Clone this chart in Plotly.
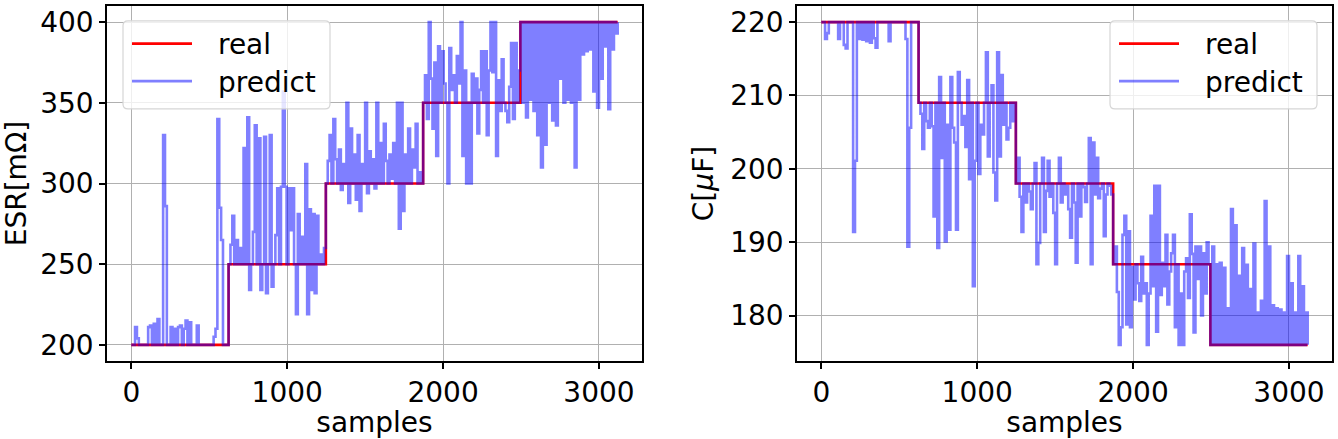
import numpy as np
import plotly.graph_objects as go
from plotly.subplots import make_subplots

# predict values every STEP samples
STEP = 12
n_samples = 3120
level_starts = [0, 624, 1248, 1872, 2496]
esr_levels = [200, 250, 300, 350, 400]
c_levels = [220, 209, 198, 187, 176]

esr_predict = [
    # 0 - 612  (real 200)
    200, 200, 211, 204, 200, 200, 200, 200, 200, 211, 212, 200, 213, 200, 216, 200, 200, 330, 286, 200,
    200, 211, 200, 210, 200, 211, 212, 200, 210, 215, 200, 214, 200, 200, 200, 212, 200, 200, 200, 200,
    200, 200, 200, 200, 205, 210, 340, 285, 265, 200, 200, 200,
    # 624 - 1236  (real 250)
    250, 262, 280, 250, 265, 250, 260, 250, 322, 250, 341, 234, 250, 270, 336, 250, 328, 234, 250, 329,
    232, 250, 330, 236, 250, 268, 297, 250, 298, 357, 298, 250, 297, 271, 297, 250, 219, 281, 250, 267,
    250, 312, 219, 284, 234, 281, 232, 280, 250, 256, 250, 260,
    # 1248 - 1860  (real 300)
    300, 314, 330, 300, 340, 315, 300, 321, 296, 312, 300, 350, 288, 334, 300, 318, 290, 330, 283, 312,
    300, 350, 294, 320, 300, 315, 297, 350, 300, 325, 300, 337, 314, 300, 318, 303, 325, 300, 350, 272,
    350, 283, 318, 300, 334, 300, 321, 310, 337, 300, 307, 300,
    # 1872 - 2484  (real 350)
    350, 367, 340, 400, 365, 334, 375, 317, 385, 350, 382, 362, 350, 300, 384, 358, 367, 350, 379, 362,
    400, 317, 370, 300, 350, 300, 368, 350, 365, 331, 358, 382, 350, 382, 330, 370, 400, 369, 400, 317,
    364, 345, 377, 350, 345, 338, 360, 387, 340, 387, 350, 370,
    # 2496 - 3120  (real 400)
    400, 350, 400, 341, 400, 352, 400, 345, 400, 330, 400, 310, 400, 324, 400, 350, 400, 339, 400, 336,
    400, 365, 400, 350, 400, 352, 400, 350, 400, 310, 400, 352, 400, 380, 400, 382, 400, 383, 400, 357,
    400, 347, 400, 365, 400, 385, 400, 346, 400, 383, 400, 393, 400,
]

c_predict = [
    # 0 - 612  (real 220)
    220, 220, 217.7, 218.5, 220, 220, 220, 220, 220, 217.7, 220, 220, 216.9, 216.4, 220, 220, 220, 191.4, 201.1, 220,
    217.7, 220, 217.6, 220, 217.4, 220, 217.2, 220, 217.8, 216.5, 220, 220, 220, 220, 220, 220, 217.4, 220, 220, 220,
    220, 220, 220, 220, 220, 217.7, 189.4, 205.6, 220, 220, 220, 220,
    # 624 - 1236  (real 209)
    209, 207.5, 202.7, 209, 206.5, 205.6, 209, 205.8, 193.5, 209, 189.2, 212.5, 201.5, 209, 190.1, 206, 191.7, 212.5, 205.6, 203.6,
    191.7, 213.2, 209, 206, 207.2, 203, 212.1, 198.6, 209, 184, 201.1, 209, 199.3, 206, 204.7, 209, 215.9, 201.7, 209, 211.4,
    199.5, 195.7, 215.9, 201.7, 212.8, 206, 209, 204, 205.6, 209, 206.5, 209,
    # 1248 - 1860  (real 198)
    198, 201.5, 196.2, 191.4, 198, 195.4, 198, 196.9, 194.5, 198, 200.8, 187, 189.9, 198, 201.5, 191.4, 197, 201.1, 196.2, 198,
    194, 187, 198, 201.5, 195.4, 198, 196.5, 197.7, 194.5, 190.6, 198, 195.4, 187.2, 198, 193.5, 198, 197.5, 195.5, 198, 204.2,
    187, 203.6, 196.5, 201.5, 196, 197.3, 198, 190.8, 196.5, 198, 197.7, 196.5,
    # 1872 - 2484  (real 187)
    187, 189.4, 183.2, 176, 178.4, 191, 193.6, 178.8, 191.5, 178.4, 186.6, 182.2, 187, 184.4, 182, 188, 183, 184.4, 176, 183,
    193.6, 184, 197.7, 177.8, 197.7, 182.8, 187.2, 184, 191, 181.5, 186, 188.5, 191, 178.4, 187, 176, 183, 176, 186, 187.8,
    182.4, 193.8, 188.4, 177.7, 189.4, 185, 189.4, 180, 188.5, 183, 190, 187,
    # 2496 - 3120  (real 176)
    176, 189.4, 176, 187, 176, 187.2, 176, 186.5, 176, 181, 176, 194.5, 176, 192.3, 176, 185.4, 176, 189.2, 176, 186.9,
    176, 183.6, 176, 189.8, 176, 180.4, 176, 182, 176, 195.6, 176, 189.4, 176, 181.4, 176, 181, 176, 180.8, 176, 180.4,
    176, 188.1, 176, 184.4, 176, 180.4, 176, 188.1, 176, 184, 176, 180.4, 176,
]

sample_ticks = [0, 1000, 2000, 3000]
esr_ticks = [200, 250, 300, 350, 400]
c_ticks = [180, 190, 200, 210, 220]

FONT = "DejaVu Sans"
FS = 28
RED = "rgb(255,0,0)"
BLUE = "rgba(0,0,255,0.5)"

# page geometry in pixels
W, H = 1338, 439
L, R, T, B = 107, 6, 4, 76
pw, ph = W - L - R, H - T - B


def px(x):
    return (x - L) / pw


def py(y):
    return (H - B - y) / ph


fig = make_subplots(rows=1, cols=2, horizontal_spacing=0.02)
fig.update_layout(xaxis=dict(domain=[0, px(642)]), xaxis2=dict(domain=[px(797), 1]))

x_pred = np.arange(len(esr_predict)) * STEP
x_real = level_starts + [n_samples]

for col, levels, pred in [(1, esr_levels, esr_predict), (2, c_levels, c_predict)]:
    fig.add_trace(go.Scatter(x=x_real, y=levels + [levels[-1]], mode="lines", line_shape="hv",
                             line=dict(color=RED, width=2.6), showlegend=False), row=1, col=col)
    fig.add_trace(go.Scatter(x=x_pred, y=pred, mode="lines", line_shape="hv",
                             line=dict(color=BLUE, width=2.6, simplify=False), showlegend=False), row=1, col=col)

axis_style = dict(showline=True, mirror=True, linecolor="black", linewidth=1.5,
                  ticks="outside", ticklen=6, tickwidth=1.5, tickcolor="black",
                  showgrid=True, gridcolor="#b0b0b0", gridwidth=1.3, zeroline=False,
                  tickfont=dict(family=FONT, size=FS, color="black"))

pad_x = 0.05 * n_samples
for col in (1, 2):
    fig.update_xaxes(axis_style, range=[-pad_x, n_samples + pad_x], tickvals=sample_ticks,
                     title=dict(text="samples", font=dict(family=FONT, size=FS, color="black"), standoff=6),
                     row=1, col=col)

fig.update_yaxes(axis_style, range=[190, 410], tickvals=esr_ticks,
                 title=dict(text="ESR[mΩ]", font=dict(family=FONT, size=FS, color="black"), standoff=8),
                 row=1, col=1)
fig.update_yaxes(axis_style, range=[173.8, 222.2], tickvals=c_ticks,
                 title=dict(text="C[<i>μ</i>F]", font=dict(family=FONT, size=FS, color="black"), standoff=8),
                 row=1, col=2)


def rounded_box(x0, y0, x1, y1, r=5):
    pts = [
        f"M{px(x0 + r)},{py(y0)}", f"L{px(x1 - r)},{py(y0)}", f"Q{px(x1)},{py(y0)} {px(x1)},{py(y0 + r)}",
        f"L{px(x1)},{py(y1 - r)}", f"Q{px(x1)},{py(y1)} {px(x1 - r)},{py(y1)}",
        f"L{px(x0 + r)},{py(y1)}", f"Q{px(x0)},{py(y1)} {px(x0)},{py(y1 - r)}",
        f"L{px(x0)},{py(y0 + r)}", f"Q{px(x0)},{py(y0)} {px(x0 + r)},{py(y0)}", "Z",
    ]
    return " ".join(pts)


shapes = []
annotations = []
for bx in (123, 1110):
    shapes.append(dict(type="path", xref="paper", yref="paper", path=rounded_box(bx, 19, bx + 207, 108),
                       fillcolor="rgba(255,255,255,0.8)", line=dict(color="#d6d6d6", width=1.2), layer="above"))
    for label, color, yy in [("real", RED, 42), ("predict", BLUE, 80)]:
        shapes.append(dict(type="line", xref="paper", yref="paper", x0=px(bx + 9), x1=px(bx + 69),
                           y0=py(yy), y1=py(yy), line=dict(color=color, width=2.6), layer="above"))
        annotations.append(dict(text=label, xref="paper", yref="paper", x=px(bx + 93), y=py(yy + 1),
                                xanchor="left", yanchor="middle", showarrow=False,
                                font=dict(family=FONT, size=FS, color="black")))

fig.update_layout(width=W, height=H, margin=dict(l=L, r=R, t=T, b=B),
                  plot_bgcolor="white", paper_bgcolor="white",
                  font=dict(family=FONT, size=FS, color="black"),
                  showlegend=False, shapes=shapes, annotations=annotations)

# the page's default body margin would push the figure 8px off the window
fig.write_html("out.html", config={"displayModeBar": False},
               post_script="document.body.style.margin = '0';")
